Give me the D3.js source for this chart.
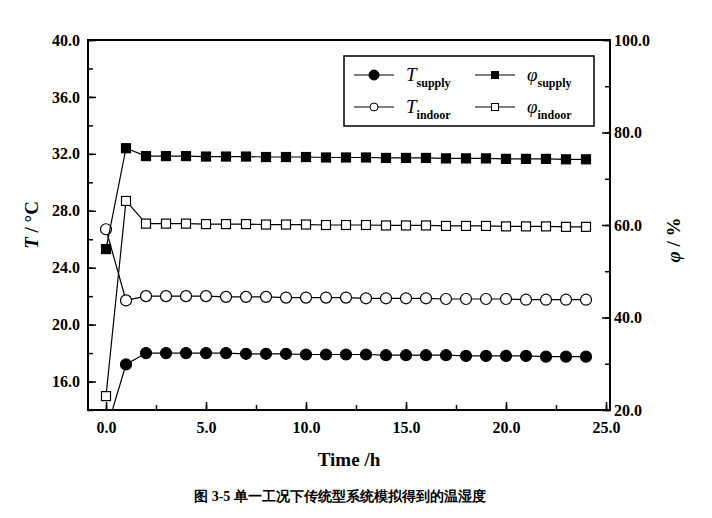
<!DOCTYPE html>
<html><head><meta charset="utf-8">
<script src="https://cdn.jsdelivr.net/npm/d3@7"></script>
<style>body{margin:0;background:#fff}text{font-family:"Liberation Serif","DejaVu Serif",serif}</style>
</head><body>
<svg id="c" width="712" height="518"></svg>
<script>
// hours
var hours = [0,1,2,3,4,5,6,7,8,9,10,11,12,13,14,15,16,17,18,19,20,21,22,23,24];
// temperatures, left axis
var tSupply = [12.5,17.2,18.0,18.0,18.0,18.0,18.0,17.95,17.95,17.95,17.9,17.9,17.9,17.9,17.85,17.85,17.85,17.85,17.8,17.8,17.8,17.8,17.75,17.75,17.75];
var tIndoor = [26.7,21.7,22.0,22.0,22.0,22.0,21.95,21.95,21.95,21.9,21.9,21.9,21.9,21.85,21.85,21.85,21.85,21.8,21.8,21.8,21.8,21.75,21.75,21.75,21.75];
// relative humidity, right axis
var phiSupply = [54.8,76.6,74.9,74.9,74.9,74.8,74.8,74.8,74.7,74.7,74.7,74.6,74.6,74.6,74.5,74.5,74.5,74.4,74.4,74.4,74.3,74.3,74.3,74.2,74.2];
var phiIndoor = [23.0,65.2,60.3,60.3,60.3,60.2,60.2,60.2,60.1,60.1,60.1,60.0,60.0,60.0,59.9,59.9,59.9,59.8,59.8,59.8,59.7,59.7,59.7,59.6,59.6];
var xTicks = [0,5,10,15,20,25];
var yLeftTicks = [16,20,24,28,32,36,40];
var yRightTicks = [20,40,60,80,100];

var svg = d3.select("#c");
var m = {l:88, r:610, t:40, b:410};
var x = d3.scaleLinear().domain([-0.9,25.2]).range([m.l,m.r]);
var yL = d3.scaleLinear().domain([14,40]).range([m.b,m.t]);
var yR = d3.scaleLinear().domain([20,100]).range([m.b,m.t]);

var defs = svg.append("defs");
defs.append("clipPath").attr("id","clip").append("rect")
	.attr("x",m.l).attr("y",m.t).attr("width",m.r-m.l).attr("height",m.b-m.t);

function axisStyle(g){
	g.select(".domain").remove();
	g.selectAll("line").attr("stroke","#000").attr("stroke-width",1.5);
	g.selectAll("text").attr("font-size",16).attr("font-weight","bold").attr("fill","#000");
}
// bottom axis, ticks inward
svg.append("g").attr("transform","translate(0,"+m.b+")")
	.call(d3.axisBottom(x).tickValues(d3.range(0,25.1,2.5)).tickSize(-5).tickFormat(""))
	.call(axisStyle);
svg.append("g").attr("transform","translate(0,"+m.b+")")
	.call(d3.axisBottom(x).tickValues(xTicks).tickSize(-8).tickPadding(12).tickFormat(d3.format(".1f")))
	.call(axisStyle);
svg.append("g").attr("transform","translate("+m.l+",0)")
	.call(d3.axisLeft(yL).tickValues(d3.range(14,40.1,2)).tickSize(-5).tickFormat(""))
	.call(axisStyle);
svg.append("g").attr("transform","translate("+m.l+",0)")
	.call(d3.axisLeft(yL).tickValues(yLeftTicks).tickSize(-8).tickPadding(8).tickFormat(d3.format(".1f")))
	.call(axisStyle);
svg.append("g").attr("transform","translate("+m.r+",0)")
	.call(d3.axisRight(yR).tickValues(d3.range(20,100.1,10)).tickSize(-5).tickFormat(""))
	.call(axisStyle);
svg.append("g").attr("transform","translate("+m.r+",0)")
	.call(d3.axisRight(yR).tickValues(yRightTicks).tickSize(-8).tickPadding(4).tickFormat(d3.format(".1f")))
	.call(axisStyle);
svg.append("rect").attr("x",m.l).attr("y",m.t).attr("width",m.r-m.l).attr("height",m.b-m.t)
	.attr("fill","none").attr("stroke","#000").attr("stroke-width",2);

var series = [
	{v:tSupply, y:yL, shape:"circle", fill:"#000"},
	{v:tIndoor, y:yL, shape:"circle", fill:"#fff"},
	{v:phiSupply, y:yR, shape:"square", fill:"#000"},
	{v:phiIndoor, y:yR, shape:"square", fill:"#fff"}
];
var plot = svg.append("g").attr("clip-path","url(#clip)");
function marker(g, shape, fill, cx, cy){
	if (shape=="circle") g.append("circle").attr("cx",cx).attr("cy",cy).attr("r",5.5)
		.attr("fill",fill).attr("stroke","#000").attr("stroke-width",1.2);
	else g.append("rect").attr("x",cx-4.5).attr("y",cy-4.5).attr("width",9).attr("height",9)
		.attr("fill",fill).attr("stroke","#000").attr("stroke-width",1.2);
}
series.forEach(function(s){
	var line = d3.line().x(function(d,i){return x(hours[i]);}).y(function(d){return s.y(d);});
	plot.append("path").datum(s.v).attr("d",line).attr("fill","none").attr("stroke","#000").attr("stroke-width",1.2);
	s.v.forEach(function(d,i){ marker(plot, s.shape, s.fill, x(hours[i]), s.y(d)); });
});

// legend
var lg = svg.append("g");
lg.append("rect").attr("x",344).attr("y",56).attr("width",250).height;
lg.select("rect").attr("height",70).attr("fill","#fff").attr("stroke","#000").attr("stroke-width",1.5);
var leg = [
	{x:354, y:75, shape:"circle", fill:"#000", sym:"T", sub:"supply", it:true},
	{x:475, y:75, shape:"square", fill:"#000", sym:"φ", sub:"supply", it:true},
	{x:354, y:107, shape:"circle", fill:"#fff", sym:"T", sub:"indoor", it:true},
	{x:475, y:107, shape:"square", fill:"#fff", sym:"φ", sub:"indoor", it:true}
];
leg.forEach(function(l){
	lg.append("line").attr("x1",l.x).attr("x2",l.x+40).attr("y1",l.y).attr("y2",l.y).attr("stroke","#000").attr("stroke-width",1.2);
	var g = lg.append("g");
	if (l.shape=="circle") g.append("circle").attr("cx",l.x+20).attr("cy",l.y).attr("r",l.fill=="#000"?5:4)
		.attr("fill",l.fill).attr("stroke","#000");
	else g.append("rect").attr("x",l.x+16.5).attr("y",l.y-3.5).attr("width",7).attr("height",7).attr("fill",l.fill).attr("stroke","#000");
	var t = lg.append("text").attr("x",l.x+52).attr("y",l.y+6).attr("font-size",19).attr("font-style","italic").text(l.sym);
	t.append("tspan").attr("dy",6).attr("font-size",12).attr("font-style","normal").attr("font-weight","bold").text(l.sub);
});

// axis titles
svg.append("text").attr("x",(m.l+m.r)/2).attr("y",466).attr("text-anchor","middle")
	.attr("font-size",19).attr("font-weight","bold").text("Time /h");
var lt = svg.append("text").attr("transform","translate(38,225) rotate(-90)").attr("text-anchor","middle")
	.attr("font-size",19).attr("font-weight","bold");
lt.append("tspan").attr("font-style","italic").text("T");
lt.append("tspan").text(" / °C");
var rt = svg.append("text").attr("transform","translate(680,240) rotate(-90)").attr("text-anchor","middle")
	.attr("font-size",19).attr("font-weight","bold");
rt.append("tspan").attr("font-style","italic").text("φ");
rt.append("tspan").text(" / %");
svg.append("text").attr("x",340).attr("y",501).attr("text-anchor","middle")
	.attr("font-family","Noto Sans CJK SC").attr("font-size",14).attr("font-weight","bold")
	.text("图 3-5 单一工况下传统型系统模拟得到的温湿度");
</script>
</body></html>
